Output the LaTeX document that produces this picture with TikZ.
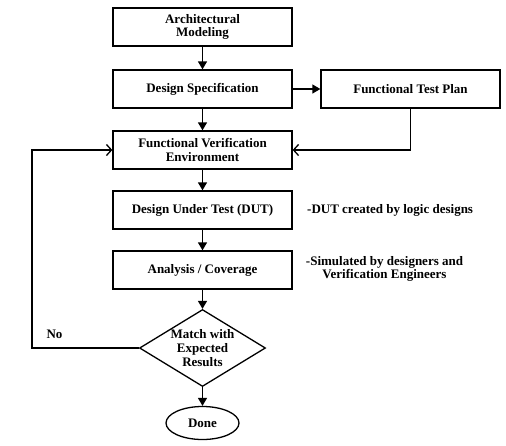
\documentclass[tikz,border=0pt]{standalone}
\usepackage{fontspec}
\setmainfont{Liberation Serif}
\usetikzlibrary{shapes.geometric,arrows.meta}
\tikzset{
  stepbox/.style={draw,line width=1.3pt,minimum width=179pt,minimum height=38pt,
    inner sep=0pt,align=center,font=\fontsize{13}{13.5}\selectfont\bfseries},
  flow/.style={line width=1.3pt,-{Triangle[length=8pt,width=9pt]}},
  back/.style={line width=1.3pt,-{Straight Barb[length=5pt,width=11pt,line width=1.3pt]}},
  note/.style={align=center,inner sep=0pt,font=\fontsize{13}{13.5}\selectfont\bfseries}
}
\begin{document}
\begin{tikzpicture}[x=1pt,y=-1pt]
  \useasboundingbox (0,0) rectangle (506,445);
  \node[stepbox] (arch) at (202.5,27) {Architectural\\Modeling};
  \node[stepbox] (spec) at (202.5,89) {Design Specification};
  \node[stepbox] (ftp) at (410.5,89) {Functional Test Plan};
  \node[stepbox] (fve) at (202.5,150) {Functional Verification\\Environment};
  \node[stepbox] (dut) at (202.5,210) {Design Under Test (DUT)};
  \node[stepbox] (cov) at (202.5,270) {Analysis / Coverage};
  \node[draw,line width=1.3pt,diamond,aspect=1.64,inner sep=0pt,
    minimum width=126pt,minimum height=77pt,align=center,
    font=\fontsize{13}{14}\selectfont\bfseries] (match) at (202.5,348)
    {Match with\\Expected\\Results};
  \node[draw,line width=1.3pt,ellipse,inner sep=0pt,minimum width=73pt,
    minimum height=33pt,font=\fontsize{13}{13.5}\selectfont\bfseries] (done) at (202.5,423) {Done};
  % notes
  \node[note,anchor=west] (dutnote) at (307,210) {-DUT created by logic designs};
  \node[note] (covnote) at (384.5,269) {-Simulated by designers and\\Verification Engineers};
  \node[note] (no) at (54.5,334) {No};
  \coordinate (bend) at (32,0);
  % arrows
  \draw[flow] (arch) -- (spec);
  \draw[flow] (spec) -- (ftp);
  \draw[flow] (spec) -- (fve);
  \draw[flow] (fve) -- (dut);
  \draw[flow] (dut) -- (cov);
  \draw[flow] (cov) -- (match);
  \draw[flow] (match) -- (done);
  \draw[back] (ftp.south) |- (fve.east);
  \draw[back] (match.west) -- (match.west -| bend) |- (fve.west);
\end{tikzpicture}
\end{document}
